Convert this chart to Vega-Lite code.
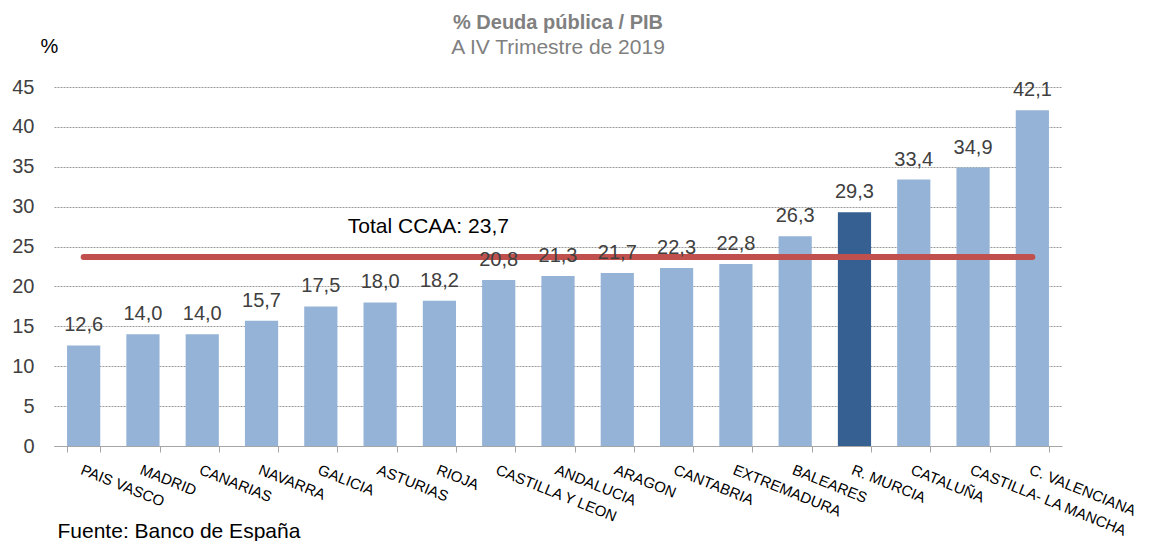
{
  "$schema": "https://vega.github.io/schema/vega-lite/v6.json",
  "autosize": "none",
  "width": 1008,
  "height": 359,
  "padding": {"left": 54, "top": 87, "right": 87, "bottom": 95},
  "background": "white",
  "config": {
    "font": "Liberation Sans",
    "view": {"stroke": null},
    "locale": {"number": {"decimal": ",", "thousands": ".", "grouping": [3], "currency": ["", " €"]}}
  },
  "title": {
    "text": "% Deuda pública / PIB",
    "subtitle": "A IV Trimestre de 2019",
    "anchor": "middle",
    "fontSize": 20,
    "fontWeight": "bold",
    "color": "#808080",
    "subtitleFontSize": 21,
    "subtitleColor": "#808080",
    "subtitlePadding": 4,
    "offset": -22
  },
  "datasets": {
    "ccaa": [
      {"region": "PAIS VASCO", "deuda": 12.6},
      {"region": "MADRID", "deuda": 14.0},
      {"region": "CANARIAS", "deuda": 14.0},
      {"region": "NAVARRA", "deuda": 15.7},
      {"region": "GALICIA", "deuda": 17.5},
      {"region": "ASTURIAS", "deuda": 18.0},
      {"region": "RIOJA", "deuda": 18.2},
      {"region": "CASTILLA Y LEON", "deuda": 20.8},
      {"region": "ANDALUCIA", "deuda": 21.3},
      {"region": "ARAGON", "deuda": 21.7},
      {"region": "CANTABRIA", "deuda": 22.3},
      {"region": "EXTREMADURA", "deuda": 22.8},
      {"region": "BALEARES", "deuda": 26.3},
      {"region": "R. MURCIA", "deuda": 29.3},
      {"region": "CATALUÑA", "deuda": 33.4},
      {"region": "CASTILLA- LA MANCHA", "deuda": 34.9},
      {"region": "C. VALENCIANA", "deuda": 42.1}
    ],
    "total": [
      {"desde": "PAIS VASCO", "hasta": "C. VALENCIANA", "deuda": 23.7, "etiqueta": "Total CCAA: 23,7", "pos": "GALICIA"}
    ]
  },
  "encoding": {
    "y": {
      "field": "deuda",
      "type": "quantitative",
      "scale": {"domain": [0, 45], "nice": false},
      "axis": {
        "values": [0, 5, 10, 15, 20, 25, 30, 35, 40, 45],
        "title": "%",
        "titleAngle": 0,
        "titleX": -14,
        "titleY": -35,
        "titleAlign": "left",
        "titleBaseline": "alphabetic",
        "titleFontSize": 20,
        "titleFontWeight": "normal",
        "titleColor": "#000000",
        "domain": false,
        "ticks": false,
        "labelFontSize": 20,
        "labelColor": "#404040",
        "labelPadding": 20,
        "grid": true,
        "gridColor": "#9a9a9a",
        "gridDash": [2, 1],
        "gridWidth": 1
      }
    }
  },
  "layer": [
    {
      "data": {"name": "ccaa"},
      "mark": {"type": "bar"},
      "encoding": {
        "x": {
          "field": "region",
          "type": "nominal",
          "sort": null,
          "scale": {"paddingInner": 0.44, "paddingOuter": 0.22},
          "axis": {
            "title": "Fuente: Banco de España",
            "titleX": 3,
            "titleY": 91,
            "titleAlign": "left",
            "titleAnchor": "start",
            "titleBaseline": "alphabetic",
            "titleFontSize": 21,
            "titleFontWeight": "normal",
            "titleColor": "#000000",
            "labelAngle": 22,
            "labelAlign": "left",
            "labelBaseline": "top",
            "labelFontSize": 15,
            "labelColor": "#000000",
            "labelPadding": 10,
            "labelOverlap": false,
            "labelLimit": 300,
            "tickBand": "extent",
            "tickColor": "#a6a6a6",
            "tickSize": 6,
            "domainColor": "#a6a6a6",
            "grid": false
          }
        },
        "color": {
          "condition": {"test": "datum.region === 'R. MURCIA'", "value": "#366092"},
          "value": "#95b3d7"
        }
      }
    },
    {
      "data": {"name": "total"},
      "mark": {"type": "rule", "color": "#c0504d", "strokeWidth": 6, "strokeCap": "round"},
      "encoding": {
        "x": {"field": "desde", "type": "nominal", "sort": null},
        "x2": {"field": "hasta"}
      }
    },
    {
      "data": {"name": "ccaa"},
      "mark": {"type": "text", "baseline": "alphabetic", "dy": -14, "fontSize": 20, "color": "#404040"},
      "encoding": {
        "x": {"field": "region", "type": "nominal", "sort": null},
        "text": {"field": "deuda", "type": "quantitative", "format": ".1f"}
      }
    },
    {
      "data": {"name": "total"},
      "mark": {"type": "text", "align": "left", "baseline": "alphabetic", "dx": 27, "dy": -24, "fontSize": 21, "color": "#000000"},
      "encoding": {
        "x": {"field": "pos", "type": "nominal", "sort": null},
        "text": {"field": "etiqueta"}
      }
    }
  ]
}
